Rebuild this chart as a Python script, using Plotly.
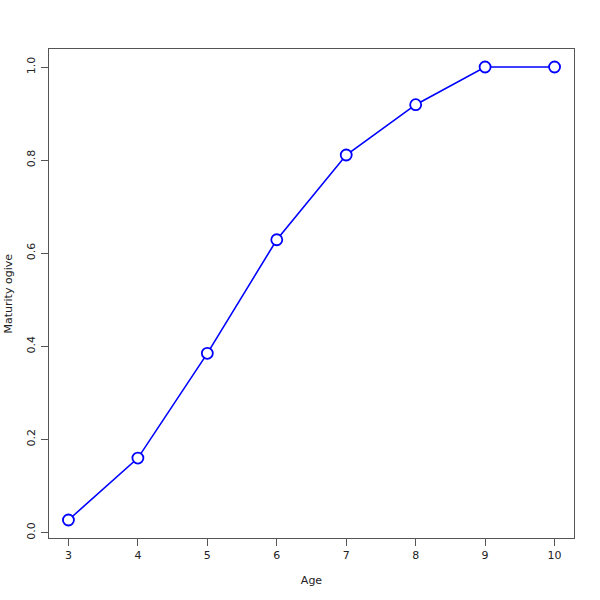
import plotly.graph_objects as go

ages = [3, 4, 5, 6, 7, 8, 9, 10]
maturity = [0.027, 0.160, 0.385, 0.629, 0.811, 0.919, 1.0, 1.0]
x_ticks = [3, 4, 5, 6, 7, 8, 9, 10]
y_ticks = [0.0, 0.2, 0.4, 0.6, 0.8, 1.0]
y_tick_labels = ["0.0", "0.2", "0.4", "0.6", "0.8", "1.0"]

fig = go.Figure()
fig.add_trace(go.Scatter(
    x=ages, y=maturity, mode="lines+markers",
    line=dict(color="#0000ff", width=1.6),
    marker=dict(symbol="circle", size=11, color="white",
                line=dict(color="#0000ff", width=1.8)),
    showlegend=False,
))

axis_common = dict(
    showgrid=False, zeroline=False, showline=True, mirror=True,
    linecolor="#555555", linewidth=1, automargin=False,
    ticks="outside", ticklen=7, tickcolor="#555555", tickwidth=1,
    tickfont=dict(family="DejaVu Sans", size=11, color="#222222"),
)

fig.update_layout(
    width=600, height=600,
    paper_bgcolor="white", plot_bgcolor="white",
    margin=dict(l=49, r=26, t=49, b=62),
    font=dict(family="DejaVu Sans", size=11, color="#222222"),
    xaxis=dict(range=[2.72, 10.28], tickvals=x_ticks,
               title=dict(text="Age", standoff=15, font=dict(size=11)),
               **axis_common),
    yaxis=dict(range=[-0.0117, 1.0387], tickvals=y_ticks, ticktext=y_tick_labels,
               tickangle=-90, ticklabelstandoff=2,
               **axis_common),
    annotations=[dict(
        text="Maturity ogive", xref="paper", yref="paper", x=0, y=0.5,
        xanchor="center", yanchor="middle", xshift=-41, textangle=-90,
        showarrow=False, font=dict(size=11, color="#222222"),
    )],
)

fig.write_html("out.html", config={"displayModeBar": False},
               post_script="document.body.style.margin='0';")
